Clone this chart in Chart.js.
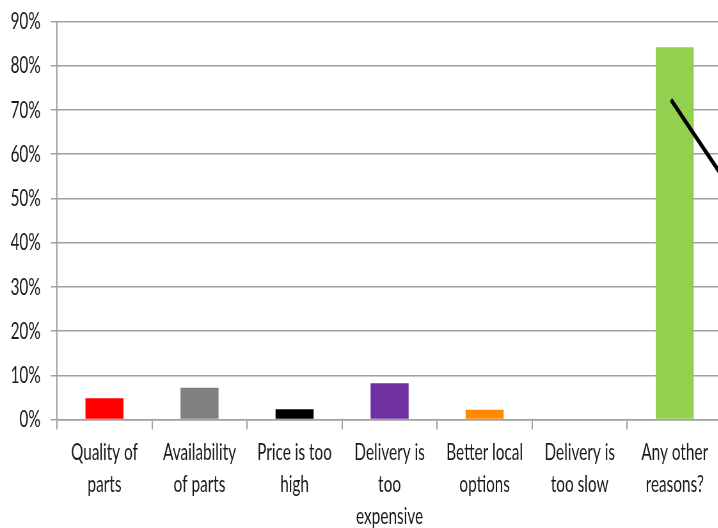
<!DOCTYPE html>
<html>
<head>
<meta charset="utf-8">
<script src="https://cdn.jsdelivr.net/npm/chart.js@4/dist/chart.umd.min.js"></script>
<style>
    html, body { margin: 0; padding: 0; background: #fff; overflow: hidden; }
    #wrap { width: 718px; height: 528px; overflow: hidden; }
    /* the reference text is tall and narrow, so draw wide and squeeze horizontally */
    #reasonChart { width: 728px; height: 528px; }
</style>
</head>
<body>
<div id="wrap">
    <canvas id="reasonChart" width="1138" height="528" style="width:728px;height:528px"></canvas>
</div>
<script>
// Reasons and share of answers (%)
const categories = [
    ['Quality of', 'parts'],
    ['Availability', 'of parts'],
    ['Price is too', 'high'],
    ['Delivery is', 'too', 'expensive'],
    ['Better local', 'options'],
    ['Delivery is', 'too slow'],
    ['Any other', 'reasons?']
];
const shareValues = [4.8, 7.2, 2.3, 8.2, 2.2, 0, 84.2];
const barColors = ['#FF0000', '#808080', '#000000', '#7030A0', '#FF8A00', '#4F81BD', '#92D050'];

const yTicks = [0, 10, 20, 30, 40, 50, 60, 70, 80, 90];

// black pointer line drawn over the last bar (category index, %)
const pointerX = [5.96, 6.5];
const pointerY = [72.3, 55];

const gridColor = '#a0a0a0';
const textColor = '#1a1a1a';

const ctx = document.getElementById('reasonChart').getContext('2d');
const reasonChart = new Chart(ctx, {
    type: 'bar',
    data: {
        labels: categories,
        datasets: [
            {
                type: 'line',
                data: pointerX.map((x, i) => ({ x: x, y: pointerY[i] })),
                xAxisID: 'x2',
                yAxisID: 'y',
                borderColor: '#000000',
                borderWidth: 5,
                borderCapStyle: 'butt',
                pointRadius: 0,
                fill: false,
                order: 0
            },
            {
                data: shareValues,
                xAxisID: 'x',
                yAxisID: 'y',
                backgroundColor: barColors,
                borderWidth: 0,
                grouped: false,
                barPercentage: 0.4,
                categoryPercentage: 1,
                order: 1
            }
        ]
    },
    options: {
        responsive: false,
        animation: false,
        layout: {
            padding: { top: 21.5, right: 9, bottom: 0, left: 0 }
        },
        plugins: {
            legend: { display: false },
            tooltip: { enabled: false },
            title: { display: false }
        },
        scales: {
            x: {
                type: 'category',
                position: 'bottom',
                grid: {
                    display: true,
                    drawOnChartArea: false,
                    drawTicks: true,
                    tickLength: 10,
                    color: gridColor,
                    lineWidth: 2
                },
                border: { display: true, color: gridColor, width: 1.5 },
                ticks: {
                    color: textColor,
                    font: { family: 'Lato', size: 24, lineHeight: 1.33 },
                    padding: 7,
                    maxRotation: 0,
                    minRotation: 0,
                    autoSkip: false
                },
                afterFit: function(scale) {
                    scale.height = 108.5;
                    scale.paddingTop = 0;
                    scale.paddingBottom = 0;
                }
            },
            x2: {
                type: 'linear',
                axis: 'x',
                position: 'bottom',
                display: false,
                offset: false,
                grid: { offset: false },
                min: -0.5,
                max: 6.5
            },
            y: {
                min: 0,
                max: 90,
                afterBuildTicks: function(scale) {
                    scale.ticks = yTicks.map(v => ({ value: v }));
                },
                grid: {
                    color: gridColor,
                    lineWidth: 1.5,
                    drawTicks: true,
                    tickLength: 9.5
                },
                border: { display: true, color: gridColor, width: 2 },
                ticks: {
                    color: textColor,
                    font: { family: 'Lato', size: 24 },
                    padding: 16,
                    callback: function(value) {
                        return value + '%';
                    }
                },
                afterFit: function(scale) {
                    scale.width = 89;
                    scale.paddingTop = 0;
                    scale.paddingBottom = 0;
                }
            }
        }
    }
});
</script>
</body>
</html>
